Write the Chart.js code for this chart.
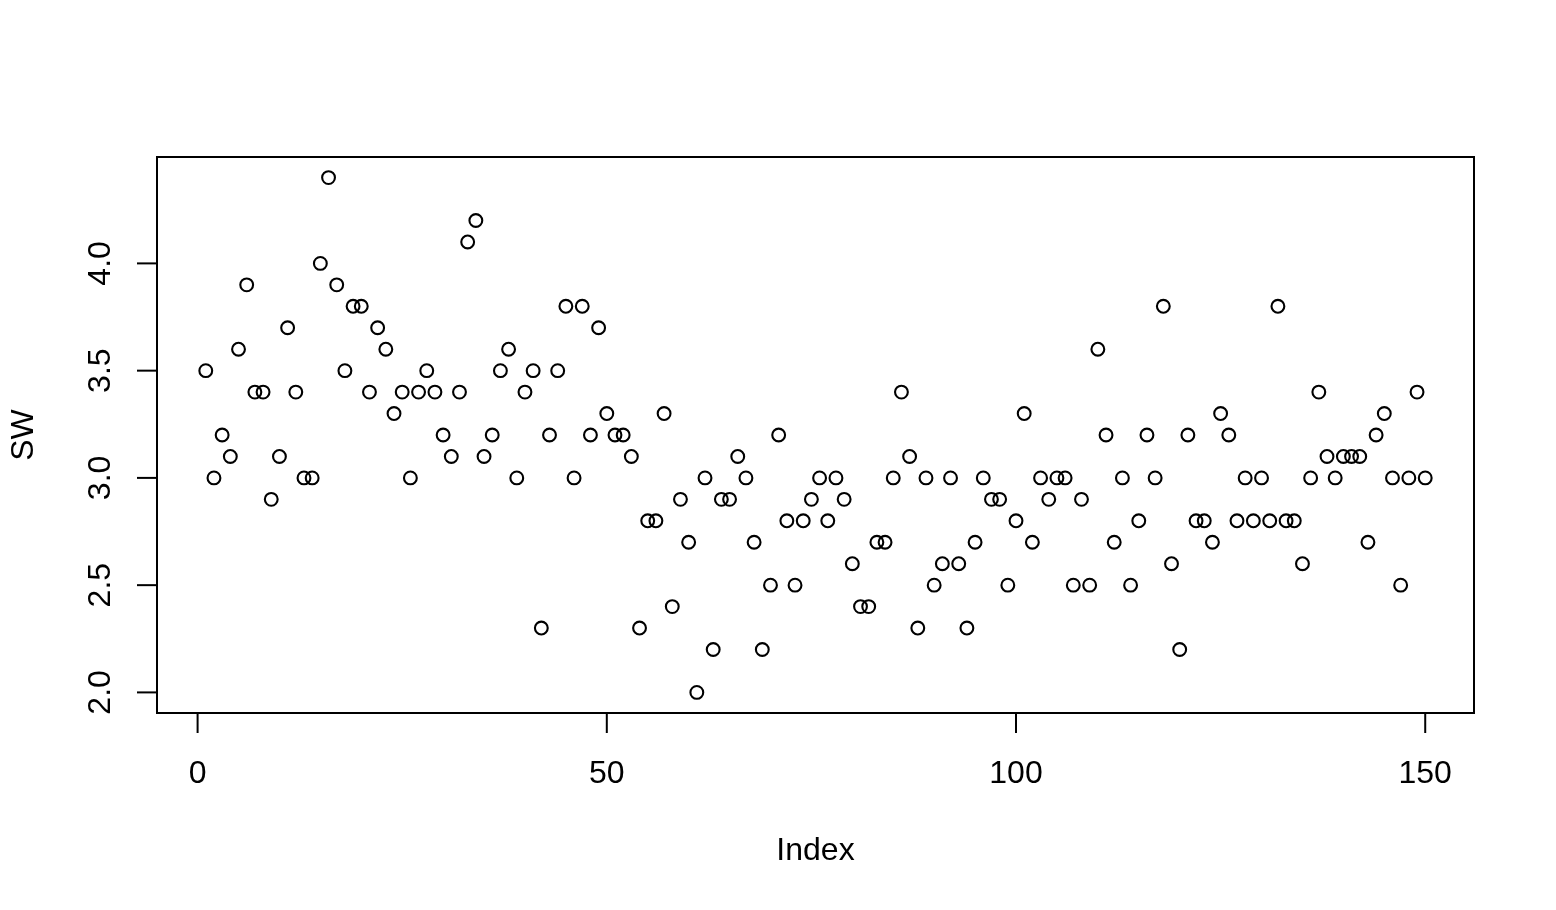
<!DOCTYPE html>
<html>
<head>
<meta charset="utf-8">
<script src="https://cdn.jsdelivr.net/npm/chart.js@4"></script>
<style>
  html, body { margin: 0; padding: 0; background: #fff; }
  #wrap { width: 1556px; height: 910px; }
</style>
</head>
<body>
<div id="wrap"><canvas id="mycanvas" width="1556" height="910"></canvas></div>
<script>
// iris Sepal.Width, plotted against index
var sw = [
  3.5,3.0,3.2,3.1,3.6,3.9,3.4,3.4,2.9,3.1,3.7,3.4,3.0,3.0,4.0,4.4,3.9,3.5,3.8,3.8,
  3.4,3.7,3.6,3.3,3.4,3.0,3.4,3.5,3.4,3.2,3.1,3.4,4.1,4.2,3.1,3.2,3.5,3.6,3.0,3.4,
  3.5,2.3,3.2,3.5,3.8,3.0,3.8,3.2,3.7,3.3,
  3.2,3.2,3.1,2.3,2.8,2.8,3.3,2.4,2.9,2.7,2.0,3.0,2.2,2.9,2.9,3.1,3.0,2.7,2.2,2.5,
  3.2,2.8,2.5,2.8,2.9,3.0,2.8,3.0,2.9,2.6,2.4,2.4,2.7,2.7,3.0,3.4,3.1,2.3,3.0,2.5,
  2.6,3.0,2.6,2.3,2.7,3.0,2.9,2.9,2.5,2.8,
  3.3,2.7,3.0,2.9,3.0,3.0,2.5,2.9,2.5,3.6,3.2,2.7,3.0,2.5,2.8,3.2,3.0,3.8,2.6,2.2,
  3.2,2.8,2.8,2.7,3.3,3.2,2.8,3.0,2.8,3.0,2.8,3.8,2.8,2.8,2.6,3.0,3.4,3.1,3.0,3.1,
  3.1,3.1,2.7,3.2,3.3,3.0,2.5,3.0,3.4,3.0
];
var xTicks = [0, 50, 100, 150];
var yTicks = [2.0, 2.5, 3.0, 3.5, 4.0];
var xTitle = "Index";
var yTitle = "SW";

var points = [];
for (var i = 0; i < sw.length; i++) {
  points.push({x: i + 1, y: sw[i]});
}

var FONT = '32px "Liberation Sans", Arial, sans-serif';

// draws the R-style box, axes, ticks and titles
var baseAxes = {
  id: 'baseAxes',
  afterDraw: function(chart) {
    var ctx = chart.ctx;
    var a = chart.chartArea;
    var xs = chart.scales.x, ys = chart.scales.y;
    ctx.save();
    ctx.strokeStyle = '#000';
    ctx.lineWidth = 2;
    ctx.strokeRect(a.left, a.top, a.right - a.left, a.bottom - a.top);

    ctx.fillStyle = '#000';
    ctx.font = FONT;

    // x axis
    var x0 = xs.getPixelForValue(xTicks[0]);
    var x1 = xs.getPixelForValue(xTicks[xTicks.length - 1]);
    ctx.beginPath();
    ctx.moveTo(x0, a.bottom); ctx.lineTo(x1, a.bottom);
    ctx.stroke();
    ctx.textAlign = 'center';
    ctx.textBaseline = 'middle';
    xTicks.forEach(function(t) {
      var px = xs.getPixelForValue(t);
      ctx.beginPath();
      ctx.moveTo(px, a.bottom); ctx.lineTo(px, a.bottom + 20);
      ctx.stroke();
      ctx.fillText(String(t), px, a.bottom + 61);
    });

    // y axis
    var y0 = ys.getPixelForValue(yTicks[0]);
    var y1 = ys.getPixelForValue(yTicks[yTicks.length - 1]);
    ctx.beginPath();
    ctx.moveTo(a.left, y0); ctx.lineTo(a.left, y1);
    ctx.stroke();
    yTicks.forEach(function(t) {
      var py = ys.getPixelForValue(t);
      ctx.beginPath();
      ctx.moveTo(a.left, py); ctx.lineTo(a.left - 20, py);
      ctx.stroke();
      ctx.save();
      ctx.translate(a.left - 56, py);
      ctx.rotate(-Math.PI / 2);
      ctx.fillText(t.toFixed(1), 0, 0);
      ctx.restore();
    });

    // titles
    ctx.fillText(xTitle, (a.left + a.right) / 2, 851);
    ctx.save();
    ctx.translate(24, (a.top + a.bottom) / 2);
    ctx.rotate(-Math.PI / 2);
    ctx.fillText(yTitle, 0, 0);
    ctx.restore();
    ctx.restore();
  }
};

var ctx = document.getElementById('mycanvas');
var scatter = new Chart(ctx, {
  type: 'scatter',
  data: {
    datasets: [{
      label: yTitle,
      data: points,
      pointStyle: 'circle',
      pointRadius: 6.4,
      pointBorderWidth: 2.1,
      pointBorderColor: '#000',
      pointBackgroundColor: 'rgba(0,0,0,0)'
    }]
  },
  options: {
    responsive: false,
    animation: false,
    layout: { padding: { left: 157, right: 82, top: 157, bottom: 197 } },
    plugins: { legend: { display: false }, tooltip: { enabled: false } },
    scales: {
      x: { type: 'linear', min: -4.96, max: 155.96, display: false },
      y: { type: 'linear', min: 1.904, max: 4.496, display: false }
    }
  },
  plugins: [baseAxes]
});
</script>
</body>
</html>
